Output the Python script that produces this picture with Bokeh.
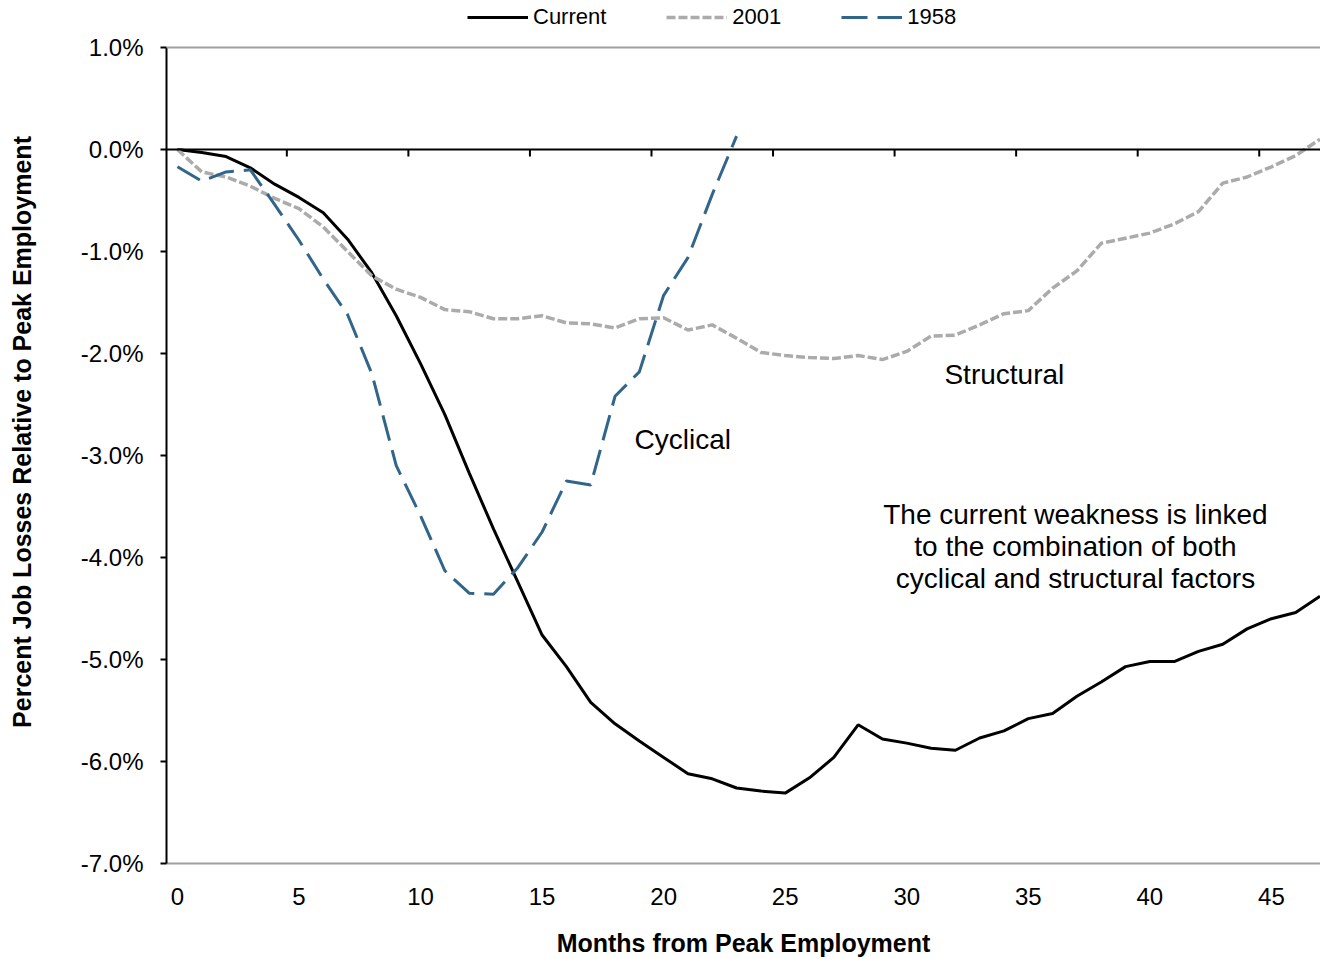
import math
from bokeh.plotting import figure
from bokeh.models import (Range1d, FixedTicker, PrintfTickFormatter,
                          Legend, LegendItem, Label, Span)
from bokeh.embed import file_html
from bokeh.resources import INLINE

# ---------------- data ----------------
months_current = list(range(48))
current = [0.00, -0.03, -0.07, -0.18, -0.34, -0.47, -0.62, -0.88, -1.21, -1.63,
           -2.10, -2.60, -3.17, -3.72, -4.24, -4.76, -5.07, -5.42, -5.63, -5.80,
           -5.96, -6.12, -6.17, -6.26, -6.29, -6.31, -6.16, -5.96, -5.64, -5.78,
           -5.82, -5.87, -5.89, -5.77, -5.70, -5.58, -5.53, -5.36, -5.22, -5.07,
           -5.02, -5.02, -4.92, -4.85, -4.70, -4.60, -4.54, -4.38]

months_2001 = list(range(48))
rec_2001 = [0.00, -0.22, -0.27, -0.36, -0.48, -0.58, -0.76, -1.00, -1.24, -1.37,
            -1.45, -1.57, -1.59, -1.66, -1.66, -1.63, -1.70, -1.71, -1.75, -1.66,
            -1.65, -1.77, -1.72, -1.85, -1.99, -2.02, -2.04, -2.05, -2.02, -2.06,
            -1.98, -1.83, -1.82, -1.72, -1.61, -1.58, -1.36, -1.19, -0.92, -0.87,
            -0.82, -0.73, -0.61, -0.33, -0.27, -0.17, -0.06, 0.10]

months_1958 = list(range(24))
rec_1958 = [-0.17, -0.31, -0.22, -0.20, -0.54, -0.89, -1.27, -1.62, -2.20, -3.10,
            -3.59, -4.13, -4.35, -4.36, -4.10, -3.75, -3.25, -3.29, -2.42, -2.18,
            -1.43, -1.06, -0.44, 0.13]

x_tick_labels = [0, 5, 10, 15, 20, 25, 30, 35, 40, 45]
x_tick_marks = [4.5, 9.5, 14.5, 19.5, 24.5, 29.5, 34.5, 39.5, 44.5]
y_ticks = [-7, -6, -5, -4, -3, -2, -1, 0, 1]

series_names = ["Current", "2001", "1958"]
notes = {
    "cyclical": "Cyclical",
    "structural": "Structural",
    "combo": ["The current weakness is linked",
              "to the combination of both",
              "cyclical and structural factors"],
}

FONT = "Liberation Sans"
BLUE = "#31658A"
GRAY = "#ABABAB"
FRAME_GRAY = "#A0A0A0"

Y_MIN, Y_MAX = y_ticks[0], y_ticks[-1]

# the frame reaches the top of the canvas so that the legend (inside it) stays visible;
# the plot area itself is bounded by the 1.0% line
p = figure(width=1320, height=959,
           x_range=Range1d(-0.45, 47.02), y_range=Range1d(Y_MIN, 1.4603),
           output_backend="svg", toolbar_location=None,
           min_border_left=166, min_border_right=0,
           min_border_top=0, min_border_bottom=95)
p.outline_line_color = None
p.background_fill_color = "white"
p.xgrid.visible = False
p.ygrid.visible = False

# y axis
ya = p.yaxis[0]
ya.ticker = FixedTicker(ticks=y_ticks)
ya.bounds = (Y_MIN, Y_MAX)
ya.formatter = PrintfTickFormatter(format="%.1f%%")
ya.axis_line_color = "black"
ya.axis_line_width = 2
ya.major_tick_line_color = "black"
ya.major_tick_line_width = 2
ya.major_tick_out = 6
ya.major_tick_in = 0
ya.minor_tick_line_color = None
ya.major_label_standoff = 17
ya.major_label_text_font = FONT
ya.major_label_text_font_size = "24px"
ya.major_label_text_color = "black"
ya.axis_label = "Percent Job Losses Relative to Peak Employment"
ya.axis_label_text_font = FONT
ya.axis_label_text_font_style = "bold"
ya.axis_label_text_font_size = "25px"
ya.axis_label_text_color = "black"
ya.axis_label_standoff = 42

# x axis (labels at bottom, grey plot-area border line)
xa = p.xaxis[0]
xa.ticker = FixedTicker(ticks=x_tick_labels)
xa.axis_line_color = FRAME_GRAY
xa.axis_line_width = 2
xa.major_tick_line_color = None
xa.minor_tick_line_color = None
xa.major_tick_out = 0
xa.major_tick_in = 0
xa.major_label_standoff = 24
xa.major_label_text_font = FONT
xa.major_label_text_font_size = "24px"
xa.major_label_text_color = "black"
xa.axis_label = "Months from Peak Employment"
xa.axis_label_text_font = FONT
xa.axis_label_text_font_style = "bold"
xa.axis_label_text_font_size = "25px"
xa.axis_label_text_color = "black"
xa.axis_label_standoff = 21

# top grey border of the plot area
p.add_layout(Span(location=Y_MAX, dimension="width", line_color=FRAME_GRAY, line_width=2))

# zero line with tick marks between category groups
p.add_layout(Span(location=0, dimension="width", line_color="black", line_width=2))
p.ray(x=x_tick_marks, y=[0] * len(x_tick_marks), length=7, length_units="screen",
      angle=-math.pi / 2, line_color="black", line_width=2)

# series
r_cur = p.line(months_current, current, line_color="black", line_width=3)
r_01 = p.line(months_2001, rec_2001, line_color=GRAY, line_width=3.5,
              line_dash="9 3")
r_58 = p.line(months_1958, rec_1958, line_color=BLUE, line_width=3,
              line_dash="26 10")

legend = Legend(items=[LegendItem(label=series_names[0], renderers=[r_cur]),
                       LegendItem(label=series_names[1], renderers=[r_01]),
                       LegendItem(label=series_names[2], renderers=[r_58])],
                orientation="horizontal", location=(301, 833),
                glyph_width=61, glyph_height=26, label_height=26,
                label_standoff=5, spacing=60, padding=0, margin=0,
                border_line_color=None, background_fill_alpha=0,
                label_text_font=FONT, label_text_font_size="22px",
                label_text_color="black")
p.add_layout(legend, "center")

# annotations
p.add_layout(Label(x=18.8, y=-2.84, text=notes["cyclical"], text_baseline="middle",
                   text_align="left", text_font=FONT, text_font_size="28px",
                   text_color="black"))
p.add_layout(Label(x=31.55, y=-2.21, text=notes["structural"], text_baseline="middle",
                   text_align="left", text_font=FONT, text_font_size="28px",
                   text_color="black"))
for line_text, yv in zip(notes["combo"], [-3.58, -3.89, -4.21]):
    p.add_layout(Label(x=36.94, y=yv, text=line_text, text_baseline="middle",
                       text_align="center", text_font=FONT, text_font_size="28px",
                       text_color="black"))

open("out.html", "w").write(file_html(p, INLINE))
